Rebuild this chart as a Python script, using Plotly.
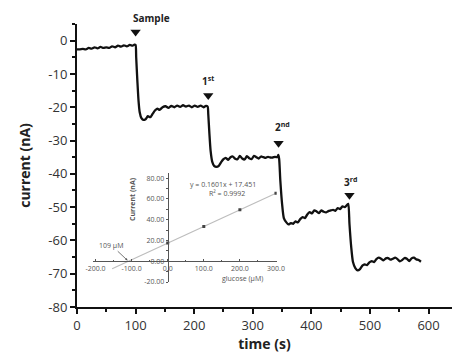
import plotly.graph_objects as go

# Amperometric trace: time (s) and current (nA)
time_s = [0, 5, 10, 15, 20, 25, 30, 35, 40, 45, 50, 55, 60, 65, 70, 75, 80, 85, 90, 95, 98,
          100, 101, 103, 105, 107, 110, 113, 117, 121, 125, 129, 133, 137, 141, 146, 151, 156,
          161, 166, 171, 176, 181, 186, 191, 196, 201, 206, 211, 216, 220, 223,
          224, 226, 228, 231, 234, 238, 242, 246, 250, 254, 258, 262, 266, 270, 274, 278, 282,
          286, 290, 294, 298, 302, 306, 310, 314, 318, 322, 326, 330, 334, 338, 342, 343.5, 345,
          347, 350, 353, 357, 361, 365, 369, 373, 377, 381, 385, 389, 393, 397, 401, 405, 409,
          413, 417, 421, 425, 429, 433, 437, 441, 445, 449, 453, 457, 461, 463,
          465, 468, 471, 475, 479, 483, 487, 491, 495, 499, 503, 507, 511, 515, 519, 523, 527,
          531, 535, 539, 543, 547, 551, 555, 559, 563, 567, 571, 575, 579, 583, 587]
current_nA = [-2.6, -2.6, -2.5, -2.6, -2.2, -2.4, -2.0, -2.3, -1.9, -2.2, -2.0, -2.2, -1.7, -2.0,
              -1.5, -1.8, -1.4, -1.7, -1.3, -1.5, -1.2,
              -1.3, -5.0, -12.0, -18.0, -21.5, -23.3, -23.8, -23.6, -22.7, -23.0, -22.0, -21.0,
              -20.4, -20.8, -20.0, -19.7, -20.2, -19.6, -20.0, -19.5, -19.9, -19.4, -19.8, -19.5,
              -20.0, -19.5, -19.9, -19.5, -20.0, -19.6, -19.8,
              -22.0, -28.0, -33.0, -36.5, -37.6, -37.9, -37.6, -36.5, -35.6, -35.2, -35.8, -35.0,
              -34.8, -35.5, -35.6, -34.6, -35.4, -35.7, -34.7, -35.3, -35.6, -34.6, -35.0, -35.4,
              -34.8, -35.0, -35.2, -34.9, -35.1, -35.1, -34.9, -35.0, -34.3, -35.5,
              -42.0, -49.0, -53.3, -54.5, -55.2, -54.8, -55.0, -54.3, -54.6, -53.6, -53.0, -53.3,
              -52.2, -51.5, -51.9, -51.0, -51.3, -51.8, -51.0, -51.4, -51.6, -51.2, -51.0, -50.8,
              -51.1, -50.3, -50.6, -49.8, -50.0, -49.3, -49.0,
              -55.0, -62.0, -66.5, -68.3, -69.0, -68.6, -67.6, -67.2, -67.4, -66.6, -66.2, -66.5,
              -65.6, -65.2, -65.5, -66.0, -65.4, -65.3, -65.8, -65.5, -65.2, -65.6, -66.3, -65.9,
              -65.3, -65.5, -66.2, -65.4, -65.2, -65.7, -65.9, -66.4]

# Injection events
event_time = [100, 224, 344, 465]
event_marker_y = [2.6, -16.5, -30.8, -46.4]
event_label = ["Sample", "1<sup>st</sup>", "2<sup>nd</sup>", "3<sup>rd</sup>"]

# Standard-addition calibration (inset)
glucose_uM = [0, 100, 200, 300]
calib_current_nA = [17.6, 33.4, 49.6, 65.4]
fit_slope = 0.1601
fit_intercept = 17.451
fit_r2 = 0.9992
fit_x = [-154, 300]
fit_y = [fit_slope * x + fit_intercept for x in fit_x]
sample_conc_uM = -109

main_ticks_x = [0, 100, 200, 300, 400, 500, 600]
main_ticks_y = [0, -10, -20, -30, -40, -50, -60, -70, -80]
main_ticktext_y = ["0", "-10", "-20", "-30", "-40", "-50", "-60", "-70", "-80"]
inset_ticks_x = [-200, -100, 0, 100, 200, 300]
inset_ticktext_x = ["-200.0", "-100.0", "0.0", "100.0", "200.0", "300.0"]
inset_ticks_y = [80, 60, 40, 20, 0, -20]
inset_ticktext_y = ["80.00", "60.00", "40.00", "20.00", "0.00", "-20.00"]

FONT = "Open Sans"
INK = "#1a1a1a"
INSET_INK = "#555555"

fig = go.Figure()

fig.add_trace(go.Scatter(
    x=time_s, y=current_nA, mode="lines",
    line=dict(color="#111111", width=2.3, shape="spline", smoothing=0.6),
    showlegend=False, hoverinfo="skip",
))

fig.add_trace(go.Scatter(
    x=event_time, y=event_marker_y, mode="markers",
    marker=dict(symbol="triangle-down", size=9, color="#111111"),
    showlegend=False, hoverinfo="skip", cliponaxis=False,
))

# inset: fit line and measured points
fig.add_trace(go.Scatter(
    x=fit_x, y=fit_y, xaxis="x2", yaxis="y2", mode="lines",
    line=dict(color="#bdbdbd", width=1.2),
    showlegend=False, hoverinfo="skip",
))
fig.add_trace(go.Scatter(
    x=glucose_uM, y=calib_current_nA, xaxis="x2", yaxis="y2", mode="markers",
    marker=dict(symbol="square", size=3, color="#444444"),
    showlegend=False, hoverinfo="skip",
))

annotations = []
label_shift = [(16, 14), (0, 15), (4, 16), (1, 13)]
for t, y, lab, (dx, dy) in zip(event_time, event_marker_y, event_label, label_shift):
    annotations.append(dict(
        x=t, y=y, xref="x", yref="y", text=lab, showarrow=False,
        xshift=dx, yshift=dy,
        font=dict(family=FONT, size=10, color="#222222", weight="bold"),
    ))

annotations += [
    dict(x=153, y=73.6, xref="x2", yref="y2", showarrow=False,
         text=f"y = {fit_slope}x + {fit_intercept}",
         font=dict(family=FONT, size=7, color=INSET_INK)),
    dict(x=163, y=64.8, xref="x2", yref="y2", showarrow=False,
         text=f"R² = {fit_r2}",
         font=dict(family=FONT, size=7, color=INSET_INK)),
    dict(x=sample_conc_uM, y=0, xref="x2", yref="y2",
         text=f"{abs(sample_conc_uM)} μM", showarrow=True,
         arrowhead=2, arrowsize=0.6, arrowwidth=0.8, arrowcolor=INSET_INK,
         ax=-17, ay=-16, standoff=1,
         font=dict(family=FONT, size=7, color=INSET_INK)),
    dict(x=0.4405, y=0.077, xref="paper", yref="paper", showarrow=False,
         text="glucose (μM)",
         font=dict(family=FONT, size=7, color=INSET_INK)),
    dict(x=0.131, y=0.38, xref="paper", yref="paper", showarrow=False,
         text="Current (nA)", textangle=-90,
         font=dict(family=FONT, size=7, color=INSET_INK, weight="bold")),
]

fig.update_layout(
    width=452, height=354,
    margin=dict(l=77, r=0, t=24, b=47, autoexpand=False),
    paper_bgcolor="white", plot_bgcolor="rgba(0,0,0,0)",
    font=dict(family=FONT, color=INK),
    annotations=annotations,
    xaxis=dict(
        range=[0, 640], tickvals=main_ticks_x, showgrid=False, zeroline=False,
        automargin=False,
        showline=True, linecolor="#111111", linewidth=2,
        ticks="outside", ticklen=5, tickwidth=1.5, tickcolor="#111111",
        minor=dict(dtick=50, ticks="outside", ticklen=3, tickwidth=1.5, tickcolor="#111111"),
        tickfont=dict(family=FONT, size=13, color="#333333"),
        title=dict(text="time (s)", standoff=6,
                   font=dict(family=FONT, size=14, color="#222222", weight="bold")),
    ),
    yaxis=dict(
        range=[-80, 5], tickvals=main_ticks_y, ticktext=main_ticktext_y,
        showgrid=False, zeroline=False, automargin=False,
        showline=True, linecolor="#111111", linewidth=2,
        ticks="outside", ticklen=5, tickwidth=1.5, tickcolor="#111111",
        minor=dict(dtick=5, tick0=0, ticks="outside", ticklen=3, tickwidth=1.5, tickcolor="#111111"),
        tickfont=dict(family=FONT, size=13, color="#333333"),
        title=dict(text="current (nA)", standoff=14,
                   font=dict(family=FONT, size=14, color="#222222", weight="bold")),
    ),
    xaxis2=dict(
        domain=[0.0427, 0.5325], range=[-207, 302], anchor="free", position=0.1618,
        tickvals=inset_ticks_x, ticktext=inset_ticktext_x, automargin=False,
        showgrid=False, zeroline=False, showline=True, linecolor=INSET_INK, linewidth=1,
        ticks="inside", ticklen=2, tickwidth=1, tickcolor=INSET_INK,
        minor=dict(dtick=50, ticks="inside", ticklen=1.5, tickcolor=INSET_INK),
        tickfont=dict(family=FONT, size=7, color=INSET_INK),
    ),
    yaxis2=dict(
        domain=[0.0883, 0.4735], range=[-20, 85], anchor="free", position=0.2419,
        tickvals=inset_ticks_y, ticktext=inset_ticktext_y, automargin=False,
        showgrid=False, zeroline=False, showline=True, linecolor=INSET_INK, linewidth=1,
        ticks="outside", ticklen=2, tickwidth=1, tickcolor=INSET_INK,
        minor=dict(dtick=10, ticks="outside", ticklen=1.5, tickcolor=INSET_INK),
        tickfont=dict(family=FONT, size=7, color=INSET_INK),
    ),
)

fig.write_html("out.html")
